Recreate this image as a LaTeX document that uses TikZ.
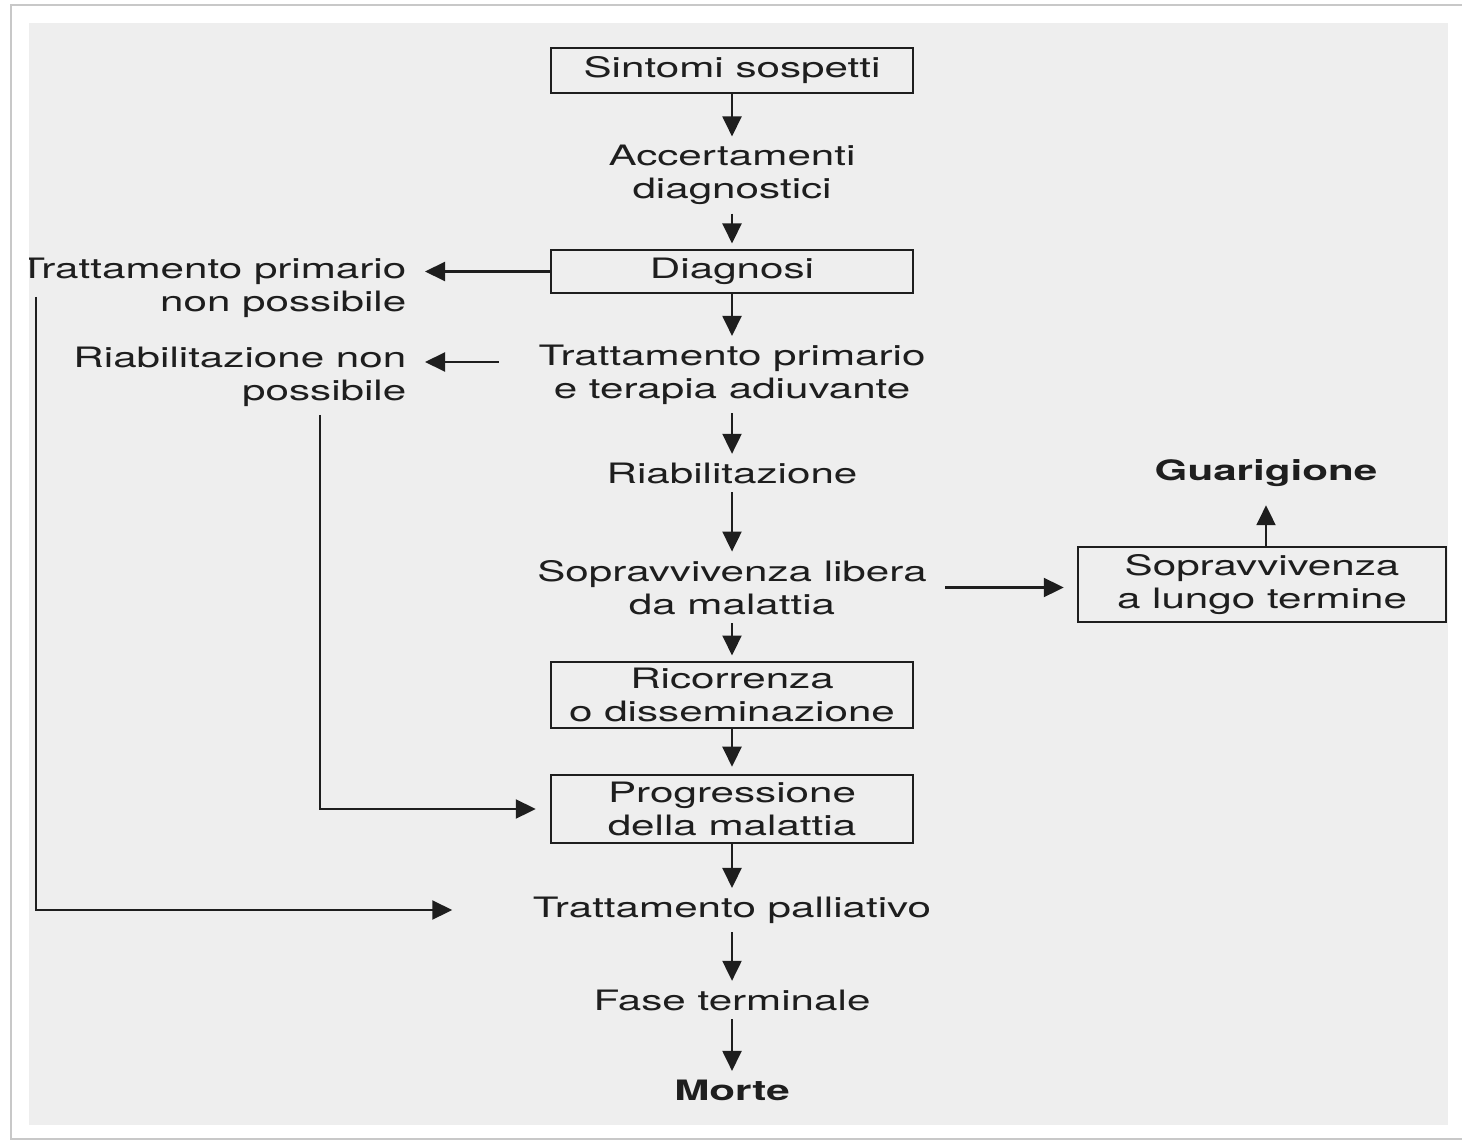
\documentclass[tikz,border=0pt]{standalone}
\usepackage{fontspec}
\setmainfont{TeX Gyre Heros}[FakeStretch=1.5]
\usepackage{tikz}
\usetikzlibrary{arrows.meta}
\definecolor{scangray}{RGB}{238,238,238}
\definecolor{framegray}{RGB}{200,200,200}
\definecolor{ink}{RGB}{30,30,30}

\begin{document}
\begin{tikzpicture}[
  font=\fontsize{8}{9.4}\selectfont,
  box/.style={draw=ink, line width=0.7pt, minimum width=3.62cm, minimum height=0.43cm,
    inner sep=0.05cm, align=center, text=ink},
  txt/.style={inner sep=0.08cm, align=center, text=ink},
  arr/.style={draw=ink, line width=0.6pt, -{Triangle[length=2mm,width=1.9mm]}}
]
\useasboundingbox (0,0) rectangle (14.62,-11.41);
% page edge and scanned sheet
\draw[framegray, line width=0.6pt]
(14.62,-0.05) -- (0.11,-0.05) -- (0.11,-11.39) -- (14.62,-11.39);
\fill[scangray] (0.29,-0.23) rectangle (14.48,-11.25);

\begin{scope}
\clip (0.29,-0.23) rectangle (14.48,-11.25);
% main column
\node[box, minimum height=0.45cm] (sintomi) at (7.32,-0.705) {Sintomi sospetti};
\node[txt] (accert) at (7.32,-1.75) {Accertamenti\\diagnostici};
\node[box] (diagnosi) at (7.32,-2.715) {Diagnosi};
\node[txt] (trattprim) at (7.32,-3.745) {Trattamento primario\\e terapia adiuvante};
\node[txt] (riab) at (7.32,-4.73) {Riabilitazione};
\node[txt] (soprlib) at (7.32,-5.875) {Sopravvivenza libera\\da malattia};
\node[box, minimum height=0.66cm] (ricorr) at (7.32,-6.95) {Ricorrenza\\o disseminazione};
\node[box, minimum height=0.68cm] (progr) at (7.32,-8.09) {Progressione\\della malattia};
\node[txt] (palliat) at (7.32,-9.10) {Trattamento palliativo};
\node[txt] (fase) at (7.32,-10.00) {Fase terminale};
\node[txt, font=\fontsize{8}{9.4}\selectfont\bfseries] (morte) at (7.32,-10.90) {Morte};
% left side
\node[txt, align=right, anchor=east] (nonposs1) at (4.15,-2.875) {Trattamento primario\\non possibile};
\node[txt, align=right, anchor=east] (nonposs2) at (4.15,-3.765) {Riabilitazione non\\possibile};
% right side
\node[box, minimum width=3.68cm, minimum height=0.75cm] (lungo) at (12.62,-5.845) {Sopravvivenza\\a lungo termine};
\node[txt, font=\fontsize{8}{9.4}\selectfont\bfseries] (guarig) at (12.66,-4.73) {Guarigione};
\coordinate (lbus) at (0.36,-2.97);
\coordinate (rbus) at (3.20,-4.15);

% connectors down the middle
\draw[arr] (sintomi) -- (accert);
\draw[arr, shorten >=1.5pt] (accert) -- (diagnosi);
\draw[arr] (diagnosi) -- (trattprim);
\draw[arr] (trattprim) -- (riab);
\draw[arr] (riab) -- (soprlib);
\draw[arr, shorten >=1.5pt] (soprlib) -- (ricorr);
\draw[arr, shorten >=2pt] (ricorr) -- (progr);
\draw[arr] (progr) -- (palliat);
\draw[arr] (palliat) -- (fase);
\draw[arr] (fase) -- (morte);
% side branches
\draw[arr, shorten >=0.1cm] (diagnosi.west) -- (diagnosi.west -| nonposs1.east);
\draw[arr, shorten <=0.31cm, shorten >=0.1cm]
([yshift=0.125cm]trattprim.west) -- ([yshift=0.125cm]trattprim.west -| nonposs2.east);
\draw[arr, shorten <=0.1cm, shorten >=0.13cm] (soprlib.east) -- (soprlib.east -| lungo.west);
\draw[arr, shorten >=0.1cm] (lungo.north -| guarig.south) -- (guarig.south);
\draw[arr, shorten >=0.14cm] (rbus) |- (progr.west);
\draw[arr, shorten >=0.72cm] (lbus) |- (palliat.west);
\end{scope}
\end{tikzpicture}
\end{document}
